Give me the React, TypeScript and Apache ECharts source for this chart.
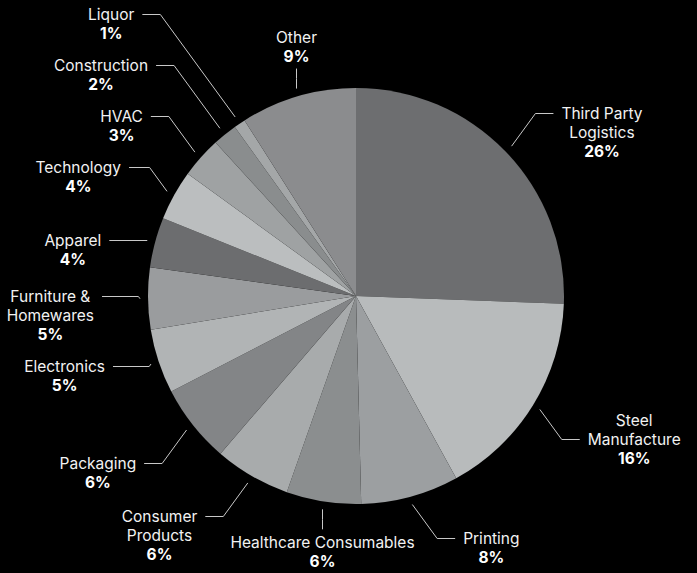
import React, { useEffect, useRef } from "react";
import * as echarts from "echarts";

const categories = [
  "Third Party\nLogistics",
  "Steel\nManufacture",
  "Printing",
  "Healthcare Consumables",
  "Consumer\nProducts",
  "Packaging",
  "Electronics",
  "Furniture &\nHomewares",
  "Apparel",
  "Technology",
  "HVAC",
  "Construction",
  "Liquor",
  "Other",
];
const shares = [25.6, 16.4, 7.6, 5.8, 5.9, 6.1, 5.0, 4.8, 3.9, 3.9, 3.2, 1.9, 0.9, 9.0];
const colors = [
  "#6d6e70", "#b8bbbc", "#9c9fa1", "#8b8e8f", "#a8abac", "#838587", "#b1b4b5",
  "#9a9c9e", "#6c6d6f", "#bbbebf", "#9fa2a3", "#8a8d8e", "#a4a7a8", "#8b8c8e",
];
// labels placed straight above / below their slice
const verticalLabels = ["Other", "Healthcare Consumables"];
// labels whose connector meets the middle text line instead of the first
const middleAttached = ["Steel\nManufacture"];

const CX = 356;
const CY = 296;
const R = 208;
const LINE_H = 19;
const FONT = 15.5;
const FAMILY = "Inter";

function buildLayout() {
  const total = shares.reduce((a, b) => a + b, 0);
  let acc = 0;
  const items = shares.map((v, i) => {
    const a0 = (acc / total) * Math.PI * 2;
    acc += v;
    const a1 = (acc / total) * Math.PI * 2;
    const mid = (a0 + a1) / 2;
    const s = Math.sin(mid);
    const c = Math.cos(mid);
    const ax = CX + (R + 8) * s;
    const ay = CY - (R + 8) * c;
    const lines = categories[i].split("\n").length + 1;
    const attach = middleAttached.includes(categories[i]) ? 1 : 0;
    const vertical = verticalLabels.includes(categories[i]);
    const t = Math.min(1, Math.max(0, (Math.abs(c) - 0.3) / 0.25));
    const ly = ay - Math.sign(c) * 33 * t;
    return { i, mid, s, c, ax, ay, lines, attach, vertical, ly, side: s < 0 ? -1 : 1 };
  });
  // push overlapping labels upwards on each side
  const gap = 13;
  [-1, 1].forEach((side) => {
    const list = items
      .filter((it) => !it.vertical && it.side === side)
      .sort((a, b) => a.ly - b.ly);
    for (let k = list.length - 2; k >= 0; k--) {
      const cur = list[k];
      const nxt = list[k + 1];
      const nxtTop = nxt.ly - LINE_H / 2 - nxt.attach * LINE_H;
      const curBottomLimit = nxtTop - gap;
      const curTop = cur.ly - LINE_H / 2 - cur.attach * LINE_H;
      const curBottom = curTop + cur.lines * LINE_H;
      if (curBottom > curBottomLimit) cur.ly -= curBottom - curBottomLimit;
    }
  });
  return items;
}

export default function App() {
  const ref = useRef<HTMLDivElement>(null);
  useEffect(() => {
    document.body.style.margin = "0";
    document.body.style.background = "#000";
    const chart = echarts.init(ref.current!, null, { renderer: "svg" });
    const layout = buildLayout();
    chart.setOption({
      animation: false,
      backgroundColor: "#000",
      series: [
        {
          type: "pie",
          center: [CX, CY],
          radius: [0, R],
          startAngle: 90,
          clockwise: true,
          itemStyle: { borderWidth: 0 },
          data: categories.map((c, i) => ({
            name: c,
            value: shares[i],
            itemStyle: { color: colors[i] },
          })),
          label: {
            position: "outside",
            color: "#fff",
            fontFamily: FAMILY,
            formatter: (p: any) => {
              const lines = String(p.name).split("\n").map((l) => `{n|${l}}`);
              return lines.join("\n") + `\n{p|${Math.round(p.value)}%}`;
            },
            rich: {
              n: { color: "#f2f2f2", fontSize: FONT, lineHeight: LINE_H, fontFamily: FAMILY, align: "center" },
              p: { color: "#fff", fontSize: FONT, lineHeight: LINE_H, fontWeight: "bold", fontFamily: FAMILY, align: "center" },
            },
          },
          labelLine: {
            show: true,
            length: 20,
            length2: 18,
            lineStyle: { color: "#c8c8c8", width: 1 },
          },
          labelLayout: (params: any) => {
            const it = layout[params.dataIndex];
            if (!it) return {};
            if (it.vertical) {
              const up = it.c > 0;
              const x = Math.round(it.ax) + 0.5;
              const y0 = it.ay;
              const y1 = up ? it.ay - 20 : it.ay + 20;
              return {
                x,
                y: up ? y1 - 3 : y1 + 4,
                align: "center",
                verticalAlign: up ? "bottom" : "top",
                labelLinePoints: [
                  [x, y0],
                  [x, (y0 + y1) / 2],
                  [x, y1],
                ],
              };
            }
            const ly = Math.round(it.ly) + 0.5;
            const dy = Math.abs(ly - it.ay);
            const ex = it.ax + it.side * dy * 0.73;
            let endX = ex + it.side * 18;
            if (Math.abs(endX - it.ax) < 38) endX = it.ax + it.side * 38;
            return {
              x: endX + it.side * 8,
              y: ly - LINE_H / 2 - it.attach * LINE_H,
              align: it.side < 0 ? "right" : "left",
              verticalAlign: "top",
              labelLinePoints: [
                [it.ax, it.ay],
                [ex, ly],
                [endX, ly],
              ],
            };
          },
        },
      ],
    });
    return () => chart.dispose();
  }, []);
  return <div ref={ref} style={{ width: 697, height: 573 }} />;
}
